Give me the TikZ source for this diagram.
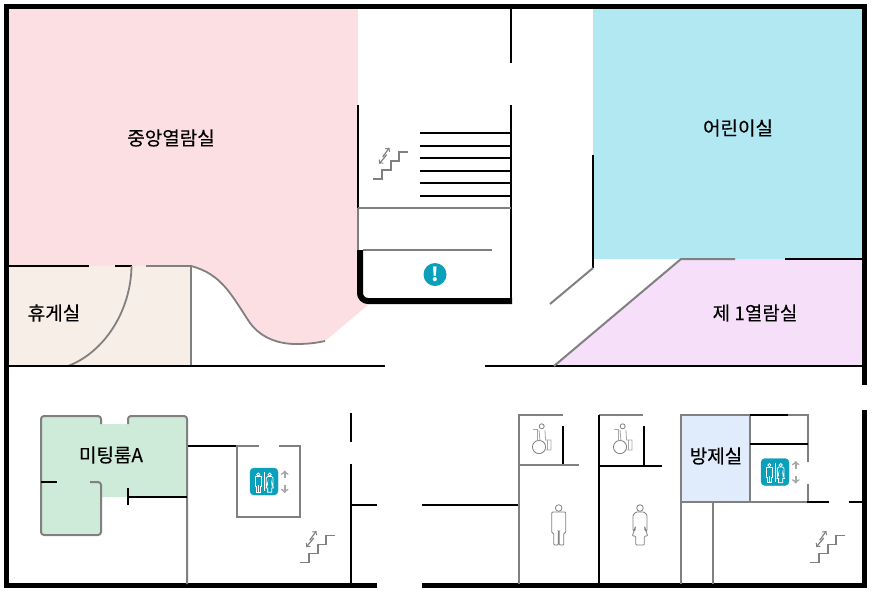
\documentclass[tikz,border=0pt]{standalone}
\usepackage{fontspec}
\setmainfont{Noto Sans CJK KR}
\newfontfamily\roomFont[FakeBold=0.25]{Noto Sans CJK KR}
\definecolor{pinkRoom}{HTML}{FBDFE3}
\definecolor{blueRoom}{HTML}{B1E8F2}
\definecolor{lilacRoom}{HTML}{F5DFF9}
\definecolor{restRoom}{HTML}{F8EEE8}
\definecolor{meetRoom}{HTML}{CDEBD8}
\definecolor{fireRoom}{HTML}{E0EBFB}
\definecolor{iconTeal}{HTML}{0A9FBB}
\definecolor{wallGray}{HTML}{808080}
\newcommand{\foyerCurve}{(191,266) .. controls (222,274) and (232,296) .. (250,323) .. controls (262,339) and (280,344) .. (296,344) .. controls (308,344) and (316,343) .. (325,341)}
\tikzset{x=1pt, y=-1pt,
        blackWall/.style={line width=2pt, draw=black},
        grayWall/.style={line width=2pt, draw=wallGray},
        outerWall/.style={line width=5pt, draw=black},
        roomLabel/.style={font=\roomFont\fontsize{19}{22}\selectfont, text=black, inner sep=0pt},
        personLine/.style={line width=0.8pt, rounded corners=1pt},
        stairIcon/.pic={
            \draw[wallGray, line width=1.5pt] (0,0)--(9,0)--(9,-9)--(18,-9)--(18,-18)--(26,-18)--(26,-27)--(35,-27);
            \draw[wallGray, line width=1.2pt, ->] (9.7,-22)--(16.3,-31.3);
            \draw[wallGray, line width=1.2pt, ->] (13.7,-24.3)--(6.3,-15.3);
        },
        liftIcon/.pic={
            \draw[iconTeal, fill=iconTeal, rounded corners=4pt] (-14,-13.5) rectangle (14,13.5);
            \draw[white, line width=0.8pt] (0,-9.5)--(0,9.5);
            \pic[white, scale=0.48, personLine/.style={line width=0.8pt}] at (-5.7,-5) {manIcon};
            \pic[white, scale=0.48, personLine/.style={line width=0.8pt}] at (5.7,-5) {womanIcon};
            \draw[gray!70, line width=1.7pt, ->] (20.7,-3.5)--(20.7,-11);
            \draw[gray!70, line width=1.7pt, ->] (20.7,3.5)--(20.7,11.5);
        },
        manIcon/.pic={
            \draw[personLine] (0,-4) circle (3.3);
            \draw[personLine] (-7,21)--(-7,0)--(7,0)--(7,21)--(5,21)--(5,33)--(0.5,33)--(0.5,19)--(-0.5,19)--(-0.5,33)--(-5,33)--(-5,21)--cycle;
        },
        womanIcon/.pic={
            \draw[personLine] (0,-4) circle (3.3);
            \draw[personLine] (-7,19)--(-7,3)--(-4,0)--(4,0)--(7,3)--(7,19)--(5,19)--(4.5,14)--(7.7,24)--(4.3,24)--(4.3,33)--(-4.3,33)--(-4.3,24)--(-7.7,24)--(-4.5,14)--(-5,19)--cycle;
        },
        wheelIcon/.pic={
            \draw[wallGray, line width=0.8pt] (0,0) circle (6.6);
            \draw[wallGray, line width=0.8pt] (2.7,-20.7) circle (2.5);
            \draw[wallGray!70, line width=0.8pt] (-5.7,-17.3)--(-1.7,-17.3)--(-1.7,-6.3);
            \draw[wallGray!70, line width=0.8pt] (0,-17)--(1,-6);
            \draw[wallGray!70, line width=0.8pt] (6,-17)--(6.5,-7)--(12,-7)--(12,3)--(7,3);
            \draw[wallGray!70, line width=0.8pt] (8.5,-7)--(8.5,3);
        }}

\begin{document}
\begin{tikzpicture}
\useasboundingbox (0,0) rectangle (872,592);

% room fills
\fill[pinkRoom] (9,9)--(358,9)--(358,296)--(368,305)--(325,341) .. controls (316,343) and (308,344) .. (296,344) .. controls (280,344) and (262,339) .. (250,323) .. controls (232,296) and (222,274) .. (191,266)--(9,266)--cycle;
\fill[restRoom] (9,266) rectangle (191,366);
\fill[blueRoom] (593,9) rectangle (862,259);
\fill[lilacRoom] (681,259)--(862,259)--(862,366)--(554,366)--cycle;
\fill[fireRoom] (681,415) rectangle (750,502);
\fill[meetRoom, rounded corners=3pt] (41,416)--(101,416) [sharp corners] --(101,424)--(128,424) [rounded corners=3pt] --(128,416) [sharp corners] --(187,416)--(187,497)--(101,497) [rounded corners=3pt] --(101,535)--(41,535)--cycle;

% outer walls
\draw[outerWall] (377,585.5)--(6.5,585.5)--(6.5,6.5)--(864,6.5)--(864,385);
\draw[outerWall] (422,585.5)--(864,585.5)--(864,410);

% rest room and reading room edges
\draw[blackWall] (9,266)--(89,266);
\draw[blackWall] (115,266)--(132,266);
\draw[grayWall] (146,266)--(191,266)--(191,366);
\draw[wallGray, line width=1.8pt] (131.5,266) .. controls (131,310) and (105,352) .. (68,366);
\draw[wallGray, line width=1.8pt] \foyerCurve;
\draw[blackWall] (9,366)--(385,366);
\draw[blackWall] (485,366)--(862,366);

% stair core
\draw[blackWall] (511,9)--(511,63);
\draw[blackWall] (358,105)--(358,208);
\draw[blackWall] (511,105)--(511,298);
\foreach \y in {132.7,146,158,170.7,183,196} {
    \draw[blackWall] (420,\y)--(511,\y);
}
\draw[grayWall] (358,208)--(511,208);
\draw[grayWall] (358,208)--(358,250);
\draw[grayWall] (363,250)--(492,250);
\draw[line width=6pt, rounded corners=8pt] (360,250)--(360,301)--(512,301);
\pic at (373,179) {stairIcon};
\node[circle, fill=iconTeal, minimum size=23pt, inner sep=0pt, text=white, font=\bfseries\fontsize{19}{19}\selectfont] (info) at (435,274.5) {!};

% children's room and first reading room
\draw[blackWall] (593,155)--(593,268);
\draw[grayWall] (593,268)--(550,304);
\draw[grayWall] (554,366)--(681,259)--(735,259);
\draw[blackWall] (785,259)--(862,259);

% meeting room
\draw[grayWall, rounded corners=3pt] (101,424)--(101,416)--(41,416)--(41,535)--(101,535)--(101,482)--(90,482);
\draw[grayWall, rounded corners=3pt] (128,424)--(128,416)--(187,416) [sharp corners] --(187,584);
\draw[blackWall] (41,482)--(57,482);
\draw[blackWall] (128,497)--(187,497);
\draw[blackWall] (128,488)--(128,505);
\draw[blackWall] (188,446)--(237,446);

% lift at the left
\draw[grayWall] (259,446)--(237,446)--(237,517)--(300,517)--(300,446)--(279,446);
\pic at (264,481.5) {liftIcon};
\pic at (300,562.3) {stairIcon};

% corridor walls
\draw[blackWall] (351,413)--(351,442);
\draw[blackWall] (351,464)--(351,584);
\draw[blackWall] (351,505)--(377,505);
\draw[blackWall] (422,505)--(519,505);

% toilets
\draw[grayWall] (563,415)--(519,415)--(519,584);
\draw[blackWall] (563,426)--(563,465);
\draw[grayWall] (519,465)--(579,465);
\draw[grayWall] (599,415)--(643,415);
\draw[blackWall] (599,415)--(599,584);
\draw[blackWall] (644,426)--(644,466);
\draw[blackWall] (599,466)--(662,466);
\pic at (539,447) {wheelIcon};
\pic at (620,447) {wheelIcon};
\pic[wallGray] at (558.7,512) {manIcon};
\pic[wallGray] at (640,512) {womanIcon};

% fire control room and lift at the right
\draw[grayWall] (681,415) rectangle (750,502);
\draw[grayWall] (681,502)--(681,584);
\draw[grayWall] (713,502)--(713,584);
\draw[grayWall] (750,502)--(808,502);
\draw[blackWall] (750,415)--(788,415);
\draw[grayWall] (788,415)--(808,415)--(808,462);
\draw[grayWall] (808,484)--(808,502);
\draw[blackWall] (750,444)--(808,444);
\draw[blackWall] (807,502)--(829,502);
\draw[blackWall] (849,502)--(862,502);
\pic at (775,472) {liftIcon};
\pic at (810,562.3) {stairIcon};

% room names
\node[roomLabel] (central) at (171,138) {중앙열람실};
\node[roomLabel] (children) at (738,128) {어린이실};
\node[roomLabel] (first) at (755,313) {제 1열람실};
\node[roomLabel] (rest) at (54,313) {휴게실};
\node[roomLabel] (meeting) at (111,455) {미팅룸A};
\node[roomLabel] (fire) at (716,456) {방제실};

\end{tikzpicture}
\end{document}
